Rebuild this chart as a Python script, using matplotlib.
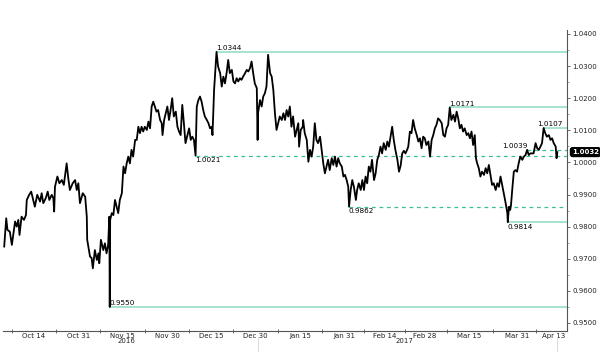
import numpy as np
import matplotlib
matplotlib.use("Agg")
import matplotlib.pyplot as plt
import matplotlib.transforms as mtransforms

# ---- data: trading-day offset from 2016-10-14, USD/CHF-style quote ----
days = [-7.4, -6.9, -6.6, -6.0, -5.5, -4.7, -4.3, -3.9, -3.6, -3.1, -2.5, -2.0, -1.8, -1.2, -0.7, -0.2,
        0.2, 0.8, 1.5, 1.9, 2.3, 2.9, 3.4, 3.8, 4.4, 4.8, 5.0, 5.2, 5.8, 6.3, 6.9, 7.4, 8.1, 8.5, 8.9,
        9.6, 10.2, 10.6, 11.0, 11.4, 12.1, 12.7, 13.1, 13.2, 13.9, 14.3, 14.6, 15.1, 15.6, 16.0, 16.2,
        16.6, 17.2, 17.6, 18.0, 18.4, 18.7, 18.8, 18.9, 19.3, 19.7, 20.1, 20.5, 20.9, 21.3, 21.8, 22.2,
        22.6, 23.0, 23.4, 23.8, 24.2, 24.6, 25.1, 25.5, 25.9, 26.3, 26.7, 27.1, 27.5, 28.0, 28.4, 28.8,
        29.2, 29.6, 30.0, 30.4, 30.8, 31.3, 31.7, 31.9, 32.3, 32.7, 33.1, 33.5, 33.9, 34.3, 34.7, 35.2,
        35.6, 36.0, 36.4, 36.8, 37.2, 37.6, 38.0, 38.5, 38.9, 39.3, 39.7, 40.1, 40.4, 40.8, 41.2, 41.6,
        42.0, 42.4, 42.9, 43.3, 43.7, 44.1, 44.3, 44.7, 44.9, 45.3, 45.7, 46.2, 46.6, 47.0, 47.4, 47.8,
        48.2, 48.6, 49.1, 49.5, 49.9, 50.3, 50.7, 51.1, 51.5, 51.9, 52.4, 52.8, 53.2, 53.6, 54.0, 54.4,
        54.8, 55.3, 55.5, 55.6, 56.1, 56.5, 56.9, 57.3, 57.7, 58.1, 58.6, 59.0, 59.4, 59.8, 60.2, 60.6,
        61.0, 61.5, 61.9, 62.3, 62.7, 63.1, 63.5, 63.9, 64.3, 64.8, 65.2, 65.6, 65.8, 66.2, 66.7, 66.8,
        67.2, 67.7, 68.1, 68.5, 68.9, 69.3, 69.7, 70.1, 70.5, 71.0, 71.4, 71.8, 72.2, 72.6, 73.0, 73.4,
        73.9, 74.3, 74.7, 75.1, 75.5, 75.9, 76.4, 76.8, 77.2, 77.6, 78.0, 78.2, 78.6, 79.0, 79.4, 79.9,
        80.2, 80.6, 81.1, 81.5, 81.9, 82.3, 82.7, 83.1, 83.5, 83.9, 84.4, 84.8, 85.2, 85.6, 86.0, 86.4,
        86.8, 87.3, 87.7, 88.1, 88.5, 88.9, 89.3, 89.7, 90.2, 90.6, 91.0, 91.4, 91.8, 92.2, 92.6, 92.9,
        93.3, 93.7, 94.1, 94.5, 95.0, 95.4, 95.8, 96.2, 96.6, 97.0, 97.4, 97.9, 98.3, 98.7, 99.1, 99.5,
        99.9, 100.3, 100.7, 101.2, 101.6, 102.0, 102.4, 102.8, 103.2, 103.6, 104.1, 104.5, 104.9, 105.3,
        105.7, 106.1, 106.5, 106.9, 107.4, 107.8, 108.2, 108.6, 109.0, 109.4, 109.7, 110.0, 110.4, 110.8,
        111.2, 111.7, 112.1, 112.5, 112.9, 113.3, 113.7, 114.1, 114.6, 115.0, 115.4, 115.8, 116.2, 116.6,
        117.0, 117.5, 117.6, 117.9, 118.2, 118.4, 118.7, 119.1, 119.5, 119.9, 120.3, 120.7, 121.2, 121.6,
        122.0, 122.4, 122.8, 123.2, 123.6, 124.0, 124.5, 124.9, 125.3, 125.7, 126.1, 126.5, 126.9, 127.3,
        127.8, 128.2, 128.6, 129.0, 129.5, 129.7, 129.9]
price = [0.9738, 0.9826, 0.9790, 0.9784, 0.9743, 0.9816, 0.9800, 0.9821, 0.9774, 0.9831, 0.9821, 0.9836,
         0.9883, 0.9899, 0.9909, 0.9883, 0.9862, 0.9899, 0.9878, 0.9904, 0.9873, 0.9888, 0.9909, 0.9883,
         0.9899, 0.9888, 0.9847, 0.9924, 0.9956, 0.9935, 0.9945, 0.9930, 0.9997, 0.9951, 0.9914, 0.9935,
         0.9945, 0.9914, 0.9935, 0.9873, 0.9904, 0.9893, 0.9831, 0.9759, 0.9707, 0.9702, 0.9670, 0.9727,
         0.9696, 0.9717, 0.9686, 0.9759, 0.9727, 0.9748, 0.9717, 0.9743, 0.9831, 0.9550, 0.9821, 0.9842,
         0.9836, 0.9883, 0.9862, 0.9842, 0.9883, 0.9904, 0.9987, 0.9966, 0.9997, 1.0018, 0.9997, 1.0039,
         1.0018, 1.0070, 1.0070, 1.0111, 1.0091, 1.0111, 1.0096, 1.0111, 1.0101, 1.0127, 1.0106, 1.0174,
         1.0189, 1.0174, 1.0158, 1.0163, 1.0132, 1.0122, 1.0085, 1.0132, 1.0153, 1.0174, 1.0132, 1.0163,
         1.0200, 1.0143, 1.0158, 1.0111, 1.0096, 1.0085, 1.0179, 1.0122, 1.0060, 1.0080, 1.0106, 1.0070,
         1.0080, 1.0070, 1.0021, 1.0174, 1.0194, 1.0205, 1.0189, 1.0163, 1.0143, 1.0132, 1.0122, 1.0106,
         1.0111, 1.0085, 1.0226, 1.0267, 1.0344, 1.0298, 1.0278, 1.0236, 1.0267, 1.0246, 1.0278, 1.0319,
         1.0278, 1.0288, 1.0252, 1.0246, 1.0262, 1.0252, 1.0262, 1.0257, 1.0267, 1.0278, 1.0288, 1.0283,
         1.0293, 1.0314, 1.0278, 1.0246, 1.0231, 1.0070, 1.0153, 1.0194, 1.0174, 1.0205, 1.0215, 1.0236,
         1.0335, 1.0278, 1.0267, 1.0226, 1.0153, 1.0101, 1.0122, 1.0143, 1.0132, 1.0153, 1.0132, 1.0163,
         1.0143, 1.0174, 1.0111, 1.0143, 1.0080, 1.0101, 1.0122, 1.0049, 1.0101, 1.0111, 1.0132, 1.0091,
         1.0070, 1.0002, 1.0039, 1.0018, 1.0049, 1.0122, 1.0070, 1.0060, 1.0080, 1.0039, 0.9997, 0.9966,
         0.9987, 1.0008, 0.9976, 1.0013, 0.9992, 1.0018, 0.9987, 1.0013, 0.9997, 0.9987, 0.9956, 0.9961,
         0.9945, 0.9924, 0.9862, 0.9914, 0.9945, 0.9924, 0.9883, 0.9914, 0.9935, 0.9914, 0.9945, 0.9914,
         0.9956, 0.9935, 0.9987, 0.9971, 1.0008, 0.9945, 0.9966, 1.0008, 1.0023, 1.0049, 1.0028, 1.0060,
         1.0039, 1.0065, 1.0049, 1.0080, 1.0111, 1.0070, 1.0039, 1.0008, 0.9971, 0.9990, 1.0028, 1.0036,
         1.0028, 1.0039, 1.0049, 1.0096, 1.0091, 1.0132, 1.0106, 1.0085, 1.0065, 1.0075, 1.0044, 1.0080,
         1.0075, 1.0054, 1.0065, 1.0018, 1.0070, 1.0085, 1.0106, 1.0117, 1.0137, 1.0132, 1.0122, 1.0085,
         1.0080, 1.0106, 1.0117, 1.0171, 1.0132, 1.0148, 1.0127, 1.0158, 1.0137, 1.0106, 1.0117, 1.0096,
         1.0106, 1.0085, 1.0091, 1.0075, 1.0096, 1.0054, 1.0085, 1.0013, 0.9997, 0.9982, 0.9956, 0.9971,
         0.9961, 0.9982, 0.9966, 0.9992, 0.9961, 0.9930, 0.9935, 0.9914, 0.9935, 0.9924, 0.9956, 0.9930,
         0.9904, 0.9878, 0.9842, 0.9814, 0.9862, 0.9852, 0.9867, 0.9914, 0.9971, 0.9976, 0.9971, 0.9997,
         1.0018, 1.0008, 1.0018, 1.0023, 1.0039, 1.0023, 1.0028, 1.0028, 1.0028, 1.0060, 1.0044, 1.0039,
         1.0049, 1.0060, 1.0107, 1.0091, 1.0080, 1.0085, 1.0070, 1.0075, 1.0060, 1.0049, 1.0013, 1.0032]

tick_dates = ["2016-10-14", "2016-10-31", "2016-11-15", "2016-11-30", "2016-12-15", "2016-12-30",
              "2017-01-15", "2017-01-31", "2017-02-14", "2017-02-28", "2017-03-15", "2017-03-31",
              "2017-04-13"]
tick_labels = ["Oct 14", "Oct 31", "Nov 15", "Nov 30", "Dec 15", "Dec 30", "Jan 15", "Jan 31",
               "Feb 14", "Feb 28", "Mar 15", "Mar 31", "Apr 13"]
years = ["2016", "2017"]
year_dates = ["2016-11-16", "2017-02-21"]

# marked levels: value, trading-day where marked, dashed?, label placement
level_values = [1.0344, 1.0171, 1.0107, 1.0039, 1.0021, 0.9862, 0.9814, 0.9550]
level_days = [45.3, 103.2, 126.5, 122.4, 40.1, 78.2, 117.6, 18.8]
level_dashed = [False, False, False, True, True, True, False, False]
level_label_pos = ["above", "above", "above_shift", "above_left", "below", "below", "below", "above"]

# ---- figure ----
SOLID = "#8cdcbc"
DASH = "#3dbf8c"
fig = plt.figure(figsize=(6.0, 3.57), dpi=100)
ax = fig.add_axes([0.005, 0.0728, 0.94, 0.843])

days_a = np.array(days)
price_a = np.array(price)
xmax = 132.3
ax.set_xlim(-7.7, xmax)
ax.set_ylim(0.9475, 1.0412)

ax.plot(days_a, price_a, color="black", lw=1.3, zorder=3)

for val, t0, dashed, pos in zip(level_values, level_days, level_dashed, level_label_pos):
    ax.plot([t0, xmax], [val, val], color=DASH if dashed else SOLID,
            lw=0.9 if dashed else 1.1, ls=(0, (3, 3)) if dashed else "-", zorder=2,
            clip_on=False)
    txt = f"{val:.4f}"
    if pos == "above":
        ax.annotate(txt, (t0, val), xytext=(-0.5, 0.5), textcoords="offset points",
                    ha="left", va="bottom", fontsize=5.2, zorder=4)
    elif pos == "above_shift":
        ax.annotate(txt, (t0, val), xytext=(-4.5, 0.5), textcoords="offset points",
                    ha="left", va="bottom", fontsize=5.2, zorder=4)
    elif pos == "above_left":
        ax.annotate(txt, (t0, val), xytext=(0, 0.5), textcoords="offset points",
                    ha="right", va="bottom", fontsize=5.2, zorder=4)
    else:
        ax.annotate(txt, (t0, val), xytext=(-0.5, -1), textcoords="offset points",
                    ha="left", va="top", fontsize=5.2, zorder=4)

# last value box
last = price_a[-1]
ax.annotate(f"{last:.4f}", xy=(1.0, last), xycoords=("axes fraction", "data"),
            xytext=(3.5, 0), textcoords="offset points", ha="left", va="center",
            fontsize=5, color="white", fontweight="bold",
            bbox=dict(boxstyle="round,pad=0.2,rounding_size=0.3", fc="black", ec="black"),
            annotation_clip=False, zorder=6)

# spines
for s in ["left", "top"]:
    ax.spines[s].set_visible(False)
for s in ["right", "bottom"]:
    ax.spines[s].set_color("#555555")
    ax.spines[s].set_linewidth(0.8)

# y axis right
ax.yaxis.tick_right()
yt = np.round(np.arange(0.95, 1.0401, 0.01), 4)
ax.set_yticks(yt)
ax.set_yticklabels([f"{v:.4f}" for v in yt], fontsize=5)
ax.set_yticks(np.round(np.arange(0.955, 1.04, 0.01), 4), minor=True)
ax.tick_params(axis="y", which="major", direction="out", length=2.5, width=0.6, pad=1.5,
               colors="#555555", labelcolor="#222222")
ax.tick_params(axis="y", which="minor", direction="out", length=1.5, width=0.5, colors="#777777")

# x axis: trading-day positions
base = np.datetime64("2016-10-14")
tpos = np.array([np.busday_count(base, np.datetime64(d)) for d in tick_dates], dtype=float)
ax.set_xticks(tpos)
ax.set_xticklabels(tick_labels, fontsize=5)
mids = np.concatenate([[tpos[0] - 5.5], (tpos[:-1] + tpos[1:]) / 2])
ax.set_xticks(mids, minor=True)
ax.tick_params(axis="x", which="major", length=0, pad=1.5, labelcolor="#222222")
ax.tick_params(axis="x", which="minor", direction="inout", length=3, width=0.6, colors="#555555")

trans = mtransforms.blended_transform_factory(ax.transData, ax.transAxes)
for y_lbl, d in zip(years, year_dates):
    ax.text(np.busday_count(base, np.datetime64(d)), -0.022, y_lbl, transform=trans,
            ha="center", va="top", fontsize=5, color="#222222")
for d in ["2017-01-01"]:
    xb = np.busday_count(base, np.datetime64(d)) - 0.5
    ax.plot([xb, xb], [-0.02, -0.065], transform=trans, color="#dddddd", lw=0.8, clip_on=False)
ax.plot([days_a[-1], days_a[-1]], [-0.02, -0.065], transform=trans, color="#dddddd", lw=0.8,
        clip_on=False)

fig.savefig("out.png", dpi=100)
